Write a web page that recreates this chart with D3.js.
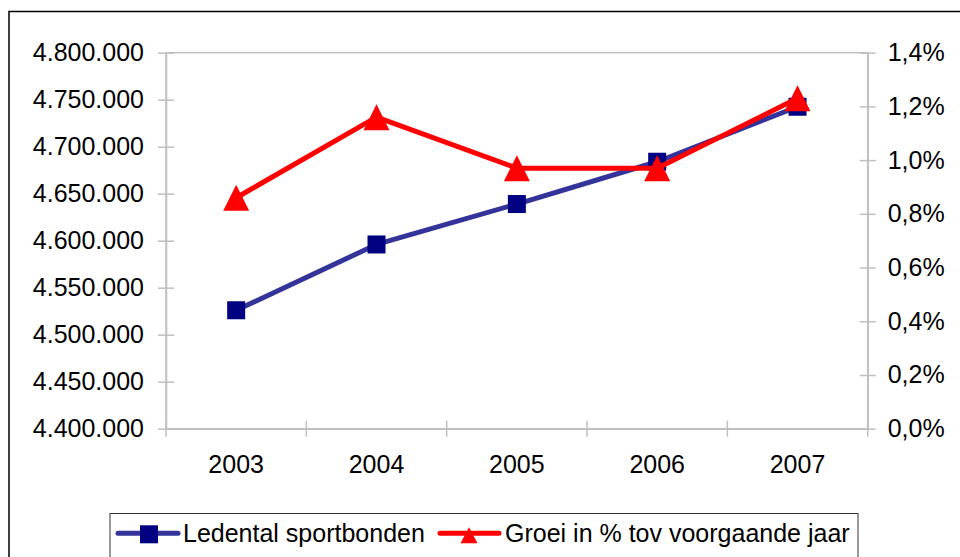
<!DOCTYPE html>
<html>
<head>
<meta charset="utf-8">
<script src="https://cdn.jsdelivr.net/npm/d3@7"></script>
<style>
  html, body { margin: 0; padding: 0; background: #fff; }
  svg { display: block; font-family: "Liberation Sans", Arial, sans-serif; }
</style>
</head>
<body>
<svg id="chart" width="960" height="557"></svg>
<script>
const years = ["2003", "2004", "2005", "2006", "2007"];
const members = [4526000, 4596000, 4639000, 4684000, 4742500];
const growth = [0.86, 1.16, 0.97, 0.97, 1.23];
const leftTicks = [4400000, 4450000, 4500000, 4550000, 4600000, 4650000, 4700000, 4750000, 4800000];
const rightTicks = [0, 0.2, 0.4, 0.6, 0.8, 1.0, 1.2, 1.4];
const seriesNames = ["Ledental sportbonden", "Groei in % tov voorgaande jaar"];

const svg = d3.select("#chart");
const plot = { left: 166, right: 867.7, top: 52.7, bottom: 428.7 };
const fontSize = 25;
const axisGray = "#c0c0c0";
const blueLine = "#333399", blueMarker = "#000080", red = "#ff0000";

const nl = d3.formatLocale({ decimal: ",", thousands: ".", grouping: [3], currency: ["€", ""] });
const fmtInt = nl.format(",.0f");
const fmtPct = nl.format(".1f");

// outer chart border (continues past the window)
svg.append("rect")
  .attr("x", 9).attr("y", 11.5).attr("width", 1000).attr("height", 600)
  .attr("fill", "#fff").attr("stroke", "#000").attr("stroke-width", 1.5);

const x = d3.scaleBand().domain(years).range([plot.left, plot.right]).padding(0);
const yL = d3.scaleLinear().domain([4400000, 4800000]).range([plot.bottom, plot.top]);
const yR = d3.scaleLinear().domain([0, 1.4]).range([plot.bottom, plot.top]);

// plot area border
svg.append("rect")
  .attr("x", plot.left).attr("y", plot.top)
  .attr("width", plot.right - plot.left).attr("height", plot.bottom - plot.top)
  .attr("fill", "none").attr("stroke", axisGray).attr("stroke-width", 1.5);

// left axis
const gL = svg.append("g").attr("transform", `translate(${plot.left},0)`)
  .call(d3.axisLeft(yL).tickValues(leftTicks).tickFormat(fmtInt).tickSizeInner(8).tickSizeOuter(0).tickPadding(14));
gL.select(".domain").attr("stroke", axisGray).attr("stroke-width", 1.5);
gL.selectAll(".tick line").attr("x1", 8).attr("stroke", axisGray).attr("stroke-width", 1.5);
gL.selectAll(".tick text").attr("font-size", fontSize).attr("fill", "#000")
  .attr("font-family", "Liberation Sans, Arial, sans-serif");

// right axis
const gR = svg.append("g").attr("transform", `translate(${plot.right},0)`)
  .call(d3.axisRight(yR).tickValues(rightTicks).tickFormat(d => fmtPct(d) + "%").tickSizeInner(8).tickSizeOuter(0).tickPadding(12));
gR.select(".domain").attr("stroke", axisGray).attr("stroke-width", 1.5);
gR.selectAll(".tick line").attr("x1", -8).attr("stroke", axisGray).attr("stroke-width", 1.5);
gR.selectAll(".tick text").attr("font-size", fontSize).attr("fill", "#000")
  .attr("font-family", "Liberation Sans, Arial, sans-serif");

// bottom axis labels
const gB = svg.append("g").attr("transform", `translate(0,${plot.bottom})`)
  .call(d3.axisBottom(x).tickSize(0).tickPadding(27));
gB.select(".domain").attr("stroke", axisGray).attr("stroke-width", 1.5);
gB.selectAll(".tick text").attr("font-size", fontSize).attr("fill", "#000")
  .attr("font-family", "Liberation Sans, Arial, sans-serif");
// category boundary ticks (crossing)
const bounds = years.map(d => x(d)).concat([x.range()[1]]);
gB.selectAll("line.bound").data(bounds).enter().append("line")
  .attr("class", "bound")
  .attr("x1", d => d).attr("x2", d => d)
  .attr("y1", -8).attr("y2", 8)
  .attr("stroke", axisGray).attr("stroke-width", 1.5);

const cx = d => x(d) + x.bandwidth() / 2;
const sq = 18, triW = 26, triH = 26;
const triPath = (w, h) => `M0,${-h / 2}L${w / 2},${h / 2}L${-w / 2},${h / 2}Z`;

// blue series
svg.append("path")
  .datum(years.map((d, i) => [cx(d), yL(members[i])]))
  .attr("d", d3.line())
  .attr("fill", "none").attr("stroke", blueLine).attr("stroke-width", 5)
  .attr("stroke-linejoin", "round");
svg.selectAll("rect.sq").data(years).enter().append("rect")
  .attr("class", "sq")
  .attr("x", d => cx(d) - sq / 2)
  .attr("y", (d, i) => yL(members[i]) - sq / 2)
  .attr("width", sq).attr("height", sq)
  .attr("fill", blueMarker);

// red series
svg.append("path")
  .datum(years.map((d, i) => [cx(d), yR(growth[i])]))
  .attr("d", d3.line())
  .attr("fill", "none").attr("stroke", red).attr("stroke-width", 5)
  .attr("stroke-linejoin", "round");
svg.selectAll("path.tri").data(years).enter().append("path")
  .attr("class", "tri")
  .attr("transform", (d, i) => `translate(${cx(d)},${yR(growth[i])})`)
  .attr("d", triPath(triW, triH))
  .attr("fill", red);

// legend
const lg = svg.append("g");
lg.append("rect")
  .attr("x", 110).attr("y", 513.5).attr("width", 748).attr("height", 80)
  .attr("fill", "#fff").attr("stroke", "#333").attr("stroke-width", 1);
const ly = 533.3;
// item 1
lg.append("line").attr("x1", 118).attr("x2", 178).attr("y1", ly).attr("y2", ly)
  .attr("stroke", blueLine).attr("stroke-width", 5).attr("stroke-linecap", "round");
lg.append("rect").attr("x", 149 - sq / 2).attr("y", ly - sq / 2 + 1).attr("width", sq).attr("height", sq)
  .attr("fill", blueMarker);
lg.append("text").attr("x", 183).attr("y", ly).attr("dy", "0.35em")
  .attr("font-size", fontSize).attr("fill", "#000").text(seriesNames[0]);
// item 2
lg.append("line").attr("x1", 440).attr("x2", 499).attr("y1", ly).attr("y2", ly)
  .attr("stroke", red).attr("stroke-width", 5).attr("stroke-linecap", "round");
lg.append("path").attr("transform", `translate(469,${ly + 2})`).attr("d", triPath(17, 16)).attr("fill", red);
lg.append("text").attr("x", 505).attr("y", ly).attr("dy", "0.35em")
  .attr("font-size", fontSize).attr("fill", "#000").text(seriesNames[1]);
</script>
</body>
</html>
